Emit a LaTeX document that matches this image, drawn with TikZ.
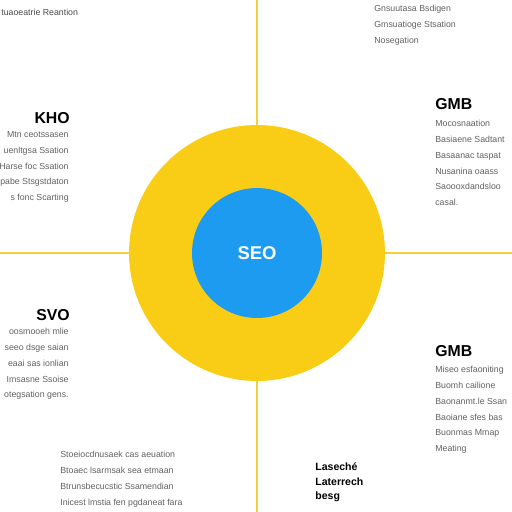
\documentclass[tikz,border=0pt]{standalone}
\usepackage{fontspec}
\setmainfont{Liberation Sans}
\definecolor{seoyellow}{HTML}{F9CD16}
\definecolor{seoblue}{HTML}{1C9BF0}
\definecolor{axisline}{HTML}{F0D23C}
\definecolor{notegray}{HTML}{626262}

\begin{document}
\begin{tikzpicture}[
    x=0.02cm, y=-0.02cm,
    heading/.style={font=\bfseries\fontsize{9}{10}\selectfont, text=black, inner sep=0pt},
    note/.style={font=\fontsize{5}{9}\selectfont, text=notegray, inner sep=0pt},
    tag/.style={font=\bfseries\fontsize{6}{8.5}\selectfont, text=black, inner sep=0pt, align=left},
    axis/.style={draw=axisline, line width=1.2pt}
]

\useasboundingbox[fill=white] (0,0) rectangle (512,512);

% Quadrant lines
\coordinate (top) at (257,0);
\coordinate (bottom) at (257,512);
\coordinate (left) at (0,253);
\coordinate (right) at (512,253);
\draw[axis] (top) -- (bottom);
\draw[axis] (left) -- (right);

% Circles
\node[circle, fill=seoyellow, minimum size=5.12cm, inner sep=0pt] (outer) at (257,253) {};
\node[circle, fill=seoblue, minimum size=2.6cm, inner sep=0pt, text=white,
      font=\bfseries\fontsize{10.5}{12}\selectfont] (seo) at (outer.center) {SEO};

% Top notes
\node[note, anchor=north west, text=black!70] (topleft) at (1,9) {tuaoeatrie Reantion};
\node[note, anchor=north west, align=left] (topright) at (374,5)
  {Gnsuutasa Bsdigen\\Gmsuatioge Stsation\\Nosegation};

% KHO
\node[heading, anchor=north east] (kho) at (70,112) {KHO};
\node[note, anchor=north east, align=right] (khotext) at (69,131)
  {Mtn ceotssasen\\uenltgsa Ssation\\Harse foc Ssation\\pabe Stsgstdaton\\s fonc Scarting};

% GMB upper
\node[heading, anchor=north west] (gmbup) at (435,98) {GMB};
\node[note, anchor=north west, align=left] (gmbuptext) at (435,120)
  {Mocosnaation\\Basiaene Sadtant\\Basaanac taspat\\Nusanina oaass\\Saoooxdandsloo\\casal.};

% SVO
\node[heading, anchor=north east] (svo) at (70,309) {SVO};
\node[note, anchor=north east, align=right] (svotext) at (69,328)
  {oosmooeh mlie\\seeo dsge saian\\eaai sas ionlian\\Imsasne Ssoise\\otegsation gens.};

% GMB lower
\node[heading, anchor=north west] (gmblow) at (435,345) {GMB};
\node[note, anchor=north west, align=left] (gmblowtext) at (435,366)
  {Miseo esfaoniting\\Buomh cailione\\Baonanmt.le Ssan\\Baoiane sfes bas\\Buonmas Mmap\\Meating};

% Bottom notes
\node[note, anchor=north west, align=left] (bottomtext) at (60,451)
  {Stoeiocdnusaek cas aeuation\\Btoaec lsarmsak sea etmaan\\Btrunsbecucstic Ssamendian\\Inicest lmstia fen pgdaneat fara};
\node[tag, anchor=north west] (latest) at (315,462) {Laseché\\Laterrech\\besg};

\end{tikzpicture}
\end{document}
